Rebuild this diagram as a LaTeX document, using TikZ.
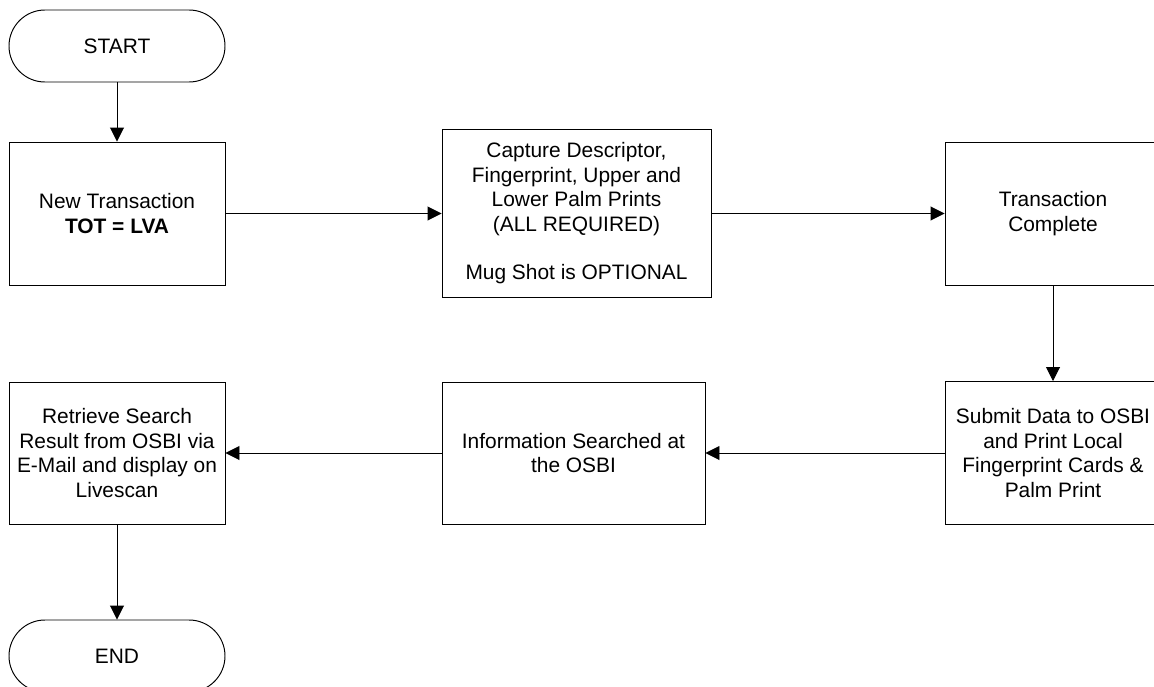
\documentclass[tikz,border=0pt]{standalone}
\usepackage{fontspec}
\setmainfont{Liberation Sans}
\usetikzlibrary{arrows.meta}

\begin{document}
\begin{tikzpicture}[>={Triangle[length=0.28cm,width=0.28cm]},line width=0.55pt,
    font=\fontsize{11.9}{13.9}\selectfont,
    box/.style={draw,rectangle,align=center,inner sep=0pt,minimum width=4.32cm,minimum height=2.86cm},
    term/.style={draw,rectangle,rounded corners=0.72cm,align=center,inner sep=0pt,minimum width=4.32cm,minimum height=1.44cm}]
            \useasboundingbox (0,0) rectangle (23.08,-13.74);
            \node[term] (start) at (2.34,-0.92) {START};
            \node[box] (newtx) at (2.34,-4.27) {New Transaction\\\textbf{TOT = LVA}};
            \node[box,minimum width=5.38cm,minimum height=3.36cm] (capture) at (11.53,-4.27) {Capture Descriptor,\\Fingerprint, Upper and\\Lower Palm Prints\\(ALL REQUIRED)\\[13.9pt]Mug Shot is OPTIONAL};
            \node[box] (complete) at (21.06,-4.27) {Transaction\\Complete};
            \node[box] (submit) at (21.06,-9.06) {Submit Data to OSBI\\and Print Local\\Fingerprint Cards \&\\Palm Print};
            \node[box,minimum width=5.26cm,minimum height=2.84cm] (searched) at (11.47,-9.06) {Information Searched at\\the OSBI};
            \node[box,minimum height=2.84cm] (retrieve) at (2.34,-9.06) {Retrieve Search\\Result from OSBI via\\E-Mail and display on\\Livescan};
            \node[term] (end) at (2.34,-13.12) {END};
            \foreach \a/\b in {start/newtx,newtx/capture,capture/complete,complete/submit,submit/searched,searched/retrieve,retrieve/end} {
            \draw[->] (\a) -- (\b);
            }
        \end{tikzpicture}
\end{document}
